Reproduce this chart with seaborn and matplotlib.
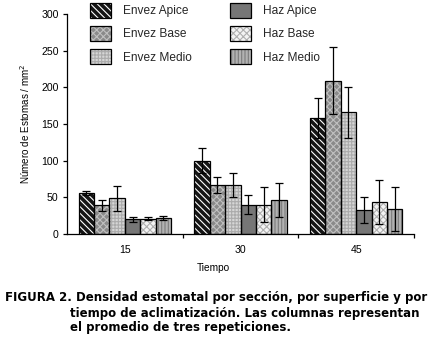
import matplotlib
matplotlib.use("Agg")
import matplotlib.pyplot as plt
from matplotlib.patches import Patch, Rectangle
from matplotlib.ticker import FixedLocator
import numpy as np
import pandas as pd
import seaborn as sns

# ---- data ----
tiempo = ["15", "30", "45"]
series = ["Envez Apice", "Envez Base", "Envez Medio", "Haz Apice", "Haz Base", "Haz Medio"]
envez_apice = [56, 100, 158]
envez_base = [39, 67, 209]
envez_medio = [49, 67, 166]
haz_apice = [20, 40, 33]
haz_base = [21, 40, 43]
haz_medio = [22, 46, 34]
err_envez_apice = [3, 17, 27]
err_envez_base = [7, 11, 46]
err_envez_medio = [17, 16, 35]
err_haz_apice = [3, 13, 18]
err_haz_base = [2, 24, 30]
err_haz_medio = [3, 23, 30]
yticks = [0, 50, 100, 150, 200, 250, 300]

values = [envez_apice, envez_base, envez_medio, haz_apice, haz_base, haz_medio]
errors = [err_envez_apice, err_envez_base, err_envez_medio, err_haz_apice, err_haz_base, err_haz_medio]

rows = []
for s, vals, errs in zip(series, values, errors):
    for t, v, e in zip(tiempo, vals, errs):
        rows.append({"Tiempo": t, "Serie": s, "Valor": v, "Err": e})
df = pd.DataFrame(rows)

# ---- styles: (face, hatch colour, hatch) ----
styles = {
    "Envez Apice": ("#151515", "#ffffff", "\\" * 5),
    "Envez Base": ("#8a8a8a", "#c0c0c0", "x" * 5),
    "Envez Medio": ("#d6d6d6", "#ababab", "+" * 5),
    "Haz Apice": ("#767676", "#767676", None),
    "Haz Base": ("#f4f4f4", "#b0b0b0", "x" * 5),
    "Haz Medio": ("#b2b2b2", "#7c7c7c", "|" * 5),
}

sns.set_theme(style="white")
plt.rcParams["font.family"] = ["Liberation Sans", "DejaVu Sans"]
plt.rcParams["hatch.linewidth"] = 0.8

W, H = 429, 341
fig = plt.figure(figsize=(W / 100, H / 100), dpi=100)
ax = fig.add_axes([67 / W, 1 - 234 / H, (414 - 67) / W, 220 / H])

sns.barplot(data=df, x="Tiempo", y="Valor", hue="Serie", order=tiempo,
            hue_order=series, errorbar=None, width=0.8, gap=0,
            legend=False, ax=ax)

for s, cont, errs in zip(series, ax.containers, errors):
    face, hc, hatch = styles[s]
    xs, ys = [], []
    for p in cont.patches:
        p.set_facecolor(face)
        p.set_edgecolor(hc)
        p.set_linewidth(0)
        if hatch:
            p.set_hatch(hatch)
        ax.add_patch(Rectangle(p.get_xy(), p.get_width(), p.get_height(),
                               fill=False, edgecolor="black", linewidth=0.9, zorder=p.get_zorder() + 0.1))
        xs.append(p.get_x() + p.get_width() / 2)
        ys.append(p.get_height())
    ax.errorbar(xs, ys, yerr=errs, fmt="none", ecolor="black", elinewidth=0.9,
                capsize=2.6, capthick=0.9, zorder=5)

ax.set_xlim(-0.5, 2.5)
ax.set_ylim(0, 300)
ax.set_yticks(yticks)
ax.set_yticklabels([str(v) for v in yticks])
ax.set_xlabel("")
ax.set_ylabel("")
for sp in ["top", "right"]:
    ax.spines[sp].set_visible(False)
for sp in ["left", "bottom"]:
    ax.spines[sp].set_color("black")
    ax.spines[sp].set_linewidth(0.9)
ax.xaxis.set_minor_locator(FixedLocator([0.5, 1.5, 2.5]))
ax.tick_params(axis="x", which="major", length=0, pad=8, labelsize=7.6, colors="black")
ax.tick_params(axis="x", which="minor", bottom=True, length=3, width=0.9, color="black", direction="out")
ax.tick_params(axis="y", which="major", left=True, length=3, width=0.9, pad=3, labelsize=7.6,
               colors="black", direction="out")

fig.text(25 / W, 1 - 124 / H, "Número de Estomas / mm$^2$", rotation=90, ha="center", va="center",
         fontsize=7.1, color="black")
fig.text(213 / W, 1 - 268 / H, "Tiempo", ha="center", va="center", fontsize=7.3, color="black")

def handle(s):
    face, hc, hatch = styles[s]
    h1 = Patch(facecolor=face, edgecolor=hc, linewidth=0, hatch=hatch)
    h2 = Patch(fill=False, edgecolor="black", linewidth=0.9)
    return (h1, h2)

leg_kw = dict(frameon=False, fontsize=8.6, handlelength=1.76, handleheight=1.56,
              labelspacing=0.67, handletextpad=1.0, borderpad=0, borderaxespad=0,
              loc="upper left")
leg1 = fig.legend([handle(s) for s in series[:3]], series[:3],
                  bbox_to_anchor=(90 / W, 1 - 3 / H), **leg_kw)
leg2 = fig.legend([handle(s) for s in series[3:]], series[3:],
                  bbox_to_anchor=(230 / W, 1 - 3 / H), **leg_kw)

cap_kw = dict(fontsize=8.45, fontweight="bold", color="black", va="center", ha="left",
              family=["DejaVu Sans"])
fig.text(5 / W, 1 - 298 / H, "FIGURA 2. Densidad estomatal por sección, por superficie y por", **cap_kw)
fig.text(70 / W, 1 - 313 / H, "tiempo de aclimatización. Las columnas representan", **cap_kw)
fig.text(70 / W, 1 - 328 / H, "el promedio de tres repeticiones.", **cap_kw)

fig.savefig("out.png", dpi=100)
